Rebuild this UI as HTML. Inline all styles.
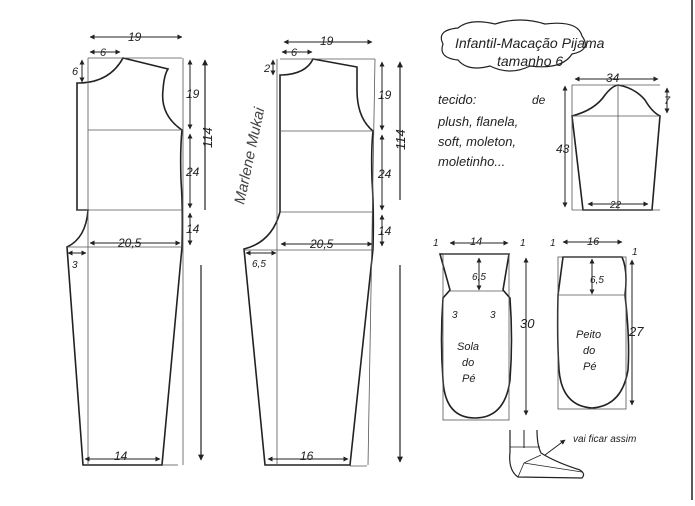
<!DOCTYPE html>
<html><head><meta charset="utf-8"><style>
html,body{margin:0;padding:0;background:#fff;width:695px;height:506px;overflow:hidden}
svg{display:block}
text{font-family:"Liberation Sans",sans-serif;font-style:italic;fill:#222}
</style></head><body>
<svg width="695" height="506" viewBox="0 0 695 506" xmlns="http://www.w3.org/2000/svg">
<defs>
<marker id="a" viewBox="0 0 10 10" refX="9" refY="5" markerWidth="5" markerHeight="5" orient="auto-start-reverse"><path d="M0,0L10,5L0,10z" fill="#222"/></marker>
</defs>
<g fill="none" stroke="#222" stroke-width="1.6">
<path d="M77,83 L77,210 L88,210 Q86,238 67,247 L83,465 L162,465 L182,247 Q183,210 181,180 Q180,150 182,130 Q160,115 163,90 Q164,75 168,69 L123,58 Q110,82 80,83 Z"/>
<g stroke-width="0.8" stroke="#555">
<line x1="88" y1="58" x2="182" y2="58"/><line x1="88" y1="58" x2="88" y2="465"/><line x1="183" y1="58" x2="183" y2="465"/>
<line x1="88" y1="130" x2="182" y2="130"/><line x1="77" y1="210" x2="182" y2="210"/><line x1="67" y1="247" x2="182" y2="247"/><line x1="162" y1="465" x2="178" y2="465"/>
</g>
<path d="M280,75 L280,212 Q272,242 244,249 L265,465 L350,465 L373,249 Q374,210 372,180 Q371,150 373,131 Q357,118 357,90 L357,67 L313,59 Q306,74 282,75 Z"/>
<g stroke-width="0.8" stroke="#555">
<line x1="280" y1="59" x2="375" y2="59"/><line x1="277" y1="59" x2="277" y2="465"/><line x1="375" y1="59" x2="368" y2="465"/>
<line x1="280" y1="131" x2="373" y2="131"/><line x1="280" y1="212" x2="373" y2="212"/><line x1="244" y1="250" x2="373" y2="250"/><line x1="350" y1="466" x2="367" y2="466"/>
</g>
<g stroke-width="1" marker-start="url(#a)" marker-end="url(#a)">
<line x1="90" y1="37" x2="182" y2="37"/><line x1="90" y1="52" x2="120" y2="52"/>
<line x1="82" y1="60" x2="82" y2="82"/>
<line x1="190" y1="60" x2="190" y2="129"/><line x1="190" y1="134" x2="190" y2="208"/><line x1="190" y1="213" x2="190" y2="245"/>
<line x1="90" y1="243" x2="180" y2="243"/><line x1="68" y1="253" x2="86" y2="253"/><line x1="85" y1="459" x2="160" y2="459"/>
<line x1="284" y1="42" x2="372" y2="42"/><line x1="282" y1="52" x2="312" y2="52"/><line x1="273" y1="60" x2="273" y2="75"/>
<line x1="382" y1="62" x2="382" y2="130"/><line x1="382" y1="135" x2="382" y2="210"/><line x1="382" y1="215" x2="382" y2="246"/>
<line x1="281" y1="244" x2="372" y2="244"/><line x1="246" y1="253" x2="276" y2="253"/><line x1="268" y1="459" x2="348" y2="459"/>
</g>
<g stroke-width="1.2" marker-end="url(#a)">
<line x1="205" y1="210" x2="205" y2="60"/><line x1="201" y1="265" x2="201" y2="460"/>
<line x1="400" y1="200" x2="400" y2="62"/><line x1="400" y1="265" x2="400" y2="462"/>
</g>
<path d="M572,116 Q595,110 605,95 Q612,86 618,85 Q635,88 645,100 Q652,112 660,116 L652,210 L583,210 Z"/>
<g stroke-width="0.8" stroke="#555"><line x1="572" y1="85" x2="660" y2="85"/><line x1="572" y1="116" x2="660" y2="116"/><line x1="618" y1="85" x2="618" y2="210"/><line x1="572" y1="85" x2="572" y2="210"/><line x1="572" y1="210" x2="660" y2="210"/></g>
<g stroke-width="1" marker-start="url(#a)" marker-end="url(#a)">
<line x1="575" y1="79" x2="658" y2="79"/><line x1="565" y1="86" x2="565" y2="207"/><line x1="667" y1="88" x2="667" y2="113"/><line x1="588" y1="204" x2="648" y2="204"/>
</g>
<path d="M443,44 Q436,30 458,28 Q470,18 495,24 Q520,16 545,24 Q578,20 582,36 Q592,50 572,54 Q562,70 530,66 Q510,76 490,66 Q468,72 458,60 Q438,58 443,44 Z" stroke-width="1.2"/>
<path d="M440,254 L509,254 L503,290 L510,298 Q513,340 510,380 Q505,418 475,418 Q445,418 443,380 Q440,340 443,298 L450,290 Z"/>
<g stroke-width="0.8" stroke="#555"><rect x="443" y="254" width="66" height="166"/><line x1="450" y1="291" x2="503" y2="291"/></g>
<path d="M563,257 L622,257 Q628,270 625,295 Q630,340 628,370 Q622,406 592,408 Q562,406 559,370 Q557,340 558,295 Z"/>
<g stroke-width="0.8" stroke="#555"><rect x="558" y="257" width="68" height="152"/><line x1="558" y1="295" x2="626" y2="295"/></g>
<g stroke-width="1" marker-start="url(#a)" marker-end="url(#a)">
<line x1="450" y1="243" x2="508" y2="243"/><line x1="479" y1="258" x2="479" y2="290"/><line x1="526" y1="258" x2="526" y2="415"/>
<line x1="563" y1="242" x2="622" y2="242"/><line x1="592" y1="259" x2="592" y2="294"/><line x1="632" y1="260" x2="632" y2="405"/>
</g>
<path d="M510,430 L510,452 Q508,470 518,477 L582,478 Q586,474 580,470 Q555,462 541,453 Q537,445 537,430" stroke-width="1.2"/>
<path d="M510,447 L540,447 M518,477 L524,463 Q530,460 541,455 M524,463 L582,472" stroke-width="0.8"/>
<line x1="524" y1="430" x2="524" y2="448" stroke-width="1"/>
<line x1="545" y1="455" x2="565" y2="440" stroke-width="1" marker-end="url(#a)"/>
<line x1="692" y1="0" x2="692" y2="500" stroke-width="1.5"/>
</g>
<g font-size="12">
<text x="128" y="41">19</text><text x="100" y="56" font-size="11">6</text><text x="72" y="75" font-size="11">6</text>
<text x="186" y="98">19</text><text x="186" y="176">24</text><text x="186" y="233">14</text>
<text x="118" y="247">20,5</text><text x="72" y="268" font-size="10">3</text><text x="114" y="460">14</text>
<text x="320" y="45">19</text><text x="291" y="56" font-size="11">6</text><text x="264" y="72" font-size="11">2</text>
<text x="378" y="99">19</text><text x="378" y="178">24</text><text x="378" y="235">14</text>
<text x="310" y="248">20,5</text><text x="252" y="267" font-size="10">6,5</text><text x="300" y="460">16</text>
<text transform="translate(212,148) rotate(-90)" font-size="13">114</text>
<text transform="translate(405,150) rotate(-90)" font-size="13">114</text>
<text transform="translate(244,205) rotate(-78)" font-size="15" font-family="Liberation Serif" style="fill:#444">Marlene Mukai</text>
<text x="455" y="48" font-size="14">Infantil-Macação Pijama</text><text x="497" y="66" font-size="14">tamanho 6</text>
<text x="438" y="104" font-size="13">tecido:</text><text x="532" y="104" font-size="12">de</text>
<text x="438" y="126" font-size="13">plush, flanela,</text><text x="438" y="146" font-size="13">soft, moleton,</text><text x="438" y="166" font-size="13">moletinho...</text>
<text x="606" y="82">34</text><text x="556" y="153">43</text><text x="664" y="104" font-size="11">7</text><text x="610" y="208" font-size="10">22</text>
<text x="470" y="245" font-size="11">14</text><text x="433" y="246" font-size="10">1</text><text x="520" y="246" font-size="10">1</text>
<text x="472" y="280" font-size="10">6,5</text><text x="452" y="318" font-size="10">3</text><text x="490" y="318" font-size="10">3</text>
<text x="520" y="328" font-size="13">30</text><text x="457" y="350" font-size="11">Sola</text><text x="462" y="366" font-size="11">do</text><text x="462" y="382" font-size="11">Pé</text>
<text x="587" y="245" font-size="11">16</text><text x="550" y="246" font-size="10">1</text><text x="632" y="255" font-size="10">1</text>
<text x="590" y="283" font-size="10">6,5</text><text x="629" y="336" font-size="13">27</text>
<text x="576" y="338" font-size="11">Peito</text><text x="583" y="354" font-size="11">do</text><text x="583" y="370" font-size="11">Pé</text>
<text x="573" y="442" font-size="10">vai ficar assim</text>
</g>
</svg>
</body></html>
